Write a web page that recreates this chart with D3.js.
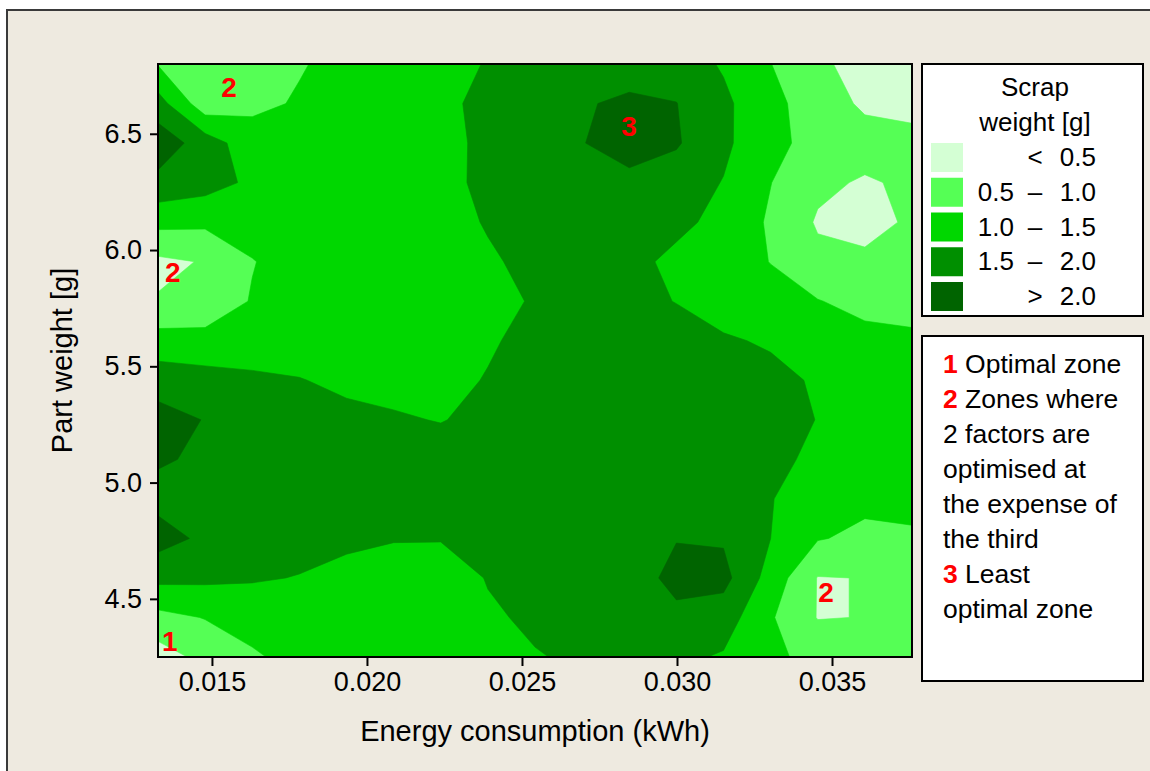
<!DOCTYPE html>
<html>
<head>
<meta charset="utf-8">
<script src="https://cdn.jsdelivr.net/npm/d3@7"></script>
<style>
  body { margin: 0; background: #ffffff; }
  svg { display: block; font-family: "Liberation Sans", Arial, sans-serif; }
</style>
</head>
<body>
<svg id="chart" width="1150" height="771"></svg>
<script>
// ---------------- data ----------------
// grid columns: energy consumption (kWh)
const energyGrid = [0.01326, 0.01478, 0.01630, 0.01782, 0.01934, 0.02086, 0.02238, 0.02390, 0.02542,
                    0.02694, 0.02846, 0.02998, 0.03150, 0.03302, 0.03454, 0.03606, 0.03758];
// grid rows: part weight (g), top to bottom
const weightGrid = [6.80, 6.63, 6.46, 6.29, 6.12, 5.95, 5.78, 5.61, 5.44, 5.27, 5.10, 4.93, 4.76, 4.59, 4.42, 4.25];
const scrapRows = [
  [0.97, 0.80, 0.72, 0.97, 1.12, 1.25, 1.38, 1.52, 1.68, 1.80, 1.80, 1.75, 1.45, 1.01, 0.56, 0.38, 0.30],
  [1.71, 0.69, 0.90, 1.04, 1.17, 1.30, 1.43, 1.58, 1.76, 1.96, 2.08, 2.01, 1.60, 1.14, 0.75, 0.42, 0.35],
  [2.30, 1.76, 1.20, 1.15, 1.20, 1.30, 1.42, 1.56, 1.72, 1.98, 2.25, 2.05, 1.60, 1.12, 0.85, 0.70, 0.65],
  [1.86, 1.70, 1.41, 1.20, 1.15, 1.20, 1.40, 1.58, 1.70, 1.80, 1.85, 1.75, 1.48, 1.01, 0.60, 0.45, 0.58],
  [1.14, 1.10, 1.20, 1.25, 1.20, 1.25, 1.35, 1.53, 1.65, 1.72, 1.72, 1.60, 1.38, 0.93, 0.45, 0.20, 0.63],
  [0.40, 0.53, 0.98, 1.20, 1.20, 1.25, 1.35, 1.45, 1.60, 1.68, 1.62, 1.40, 1.20, 0.99, 0.62, 0.675, 0.70],
  [0.53, 0.70, 1.03, 1.20, 1.22, 1.28, 1.36, 1.43, 1.52, 1.65, 1.60, 1.49, 1.30, 1.15, 1.02, 0.85, 0.80],
  [1.21, 1.15, 1.20, 1.25, 1.28, 1.32, 1.38, 1.46, 1.60, 1.70, 1.70, 1.65, 1.55, 1.45, 1.30, 1.15, 1.10],
  [1.77, 1.70, 1.60, 1.52, 1.40, 1.35, 1.40, 1.52, 1.65, 1.75, 1.78, 1.75, 1.70, 1.62, 1.45, 1.25, 1.15],
  [2.20, 1.98, 1.80, 1.72, 1.62, 1.55, 1.48, 1.62, 1.75, 1.82, 1.85, 1.82, 1.75, 1.65, 1.49, 1.30, 1.20],
  [2.05, 1.93, 1.85, 1.80, 1.75, 1.72, 1.72, 1.75, 1.82, 1.88, 1.90, 1.88, 1.80, 1.62, 1.40, 1.25, 1.20],
  [1.85, 1.85, 1.85, 1.85, 1.82, 1.78, 1.75, 1.78, 1.85, 1.90, 1.92, 1.90, 1.80, 1.52, 1.25, 1.10, 1.10],
  [2.20, 1.90, 1.75, 1.68, 1.60, 1.53, 1.52, 1.58, 1.70, 1.80, 1.88, 1.98, 1.95, 1.50, 1.03, 0.90, 0.95],
  [1.63, 1.60, 1.55, 1.48, 1.35, 1.25, 1.30, 1.52, 1.62, 1.75, 1.75, 2.15, 2.15, 1.30, 0.48, 0.51, 0.75],
  [0.85, 1.02, 1.15, 1.20, 1.22, 1.25, 1.30, 1.45, 1.56, 1.65, 1.72, 1.88, 1.75, 1.05, 0.48, 0.51, 0.70],
  [0.27, 0.64, 0.95, 1.12, 1.18, 1.22, 1.28, 1.35, 1.48, 1.55, 1.62, 1.60, 1.45, 1.10, 0.85, 0.78, 0.75]
];
const thresholds = [0.5, 1.0, 1.5, 2.0];
const levelColors = ["#D4FFD4", "#55FF55", "#00D700", "#008F00", "#006400"];
const legendLow  = ["", "0.5", "1.0", "1.5", ""];
const legendSep  = ["<", "–", "–", "–", ">"];
const legendHigh = ["0.5", "1.0", "1.5", "2.0", "2.0"];
const xTicks = [0.015, 0.020, 0.025, 0.030, 0.035];
const yTicks = [4.5, 5.0, 5.5, 6.0, 6.5];
const zoneLabels = ["2", "2", "3", "1", "2"];
const zoneEnergy = [0.01555, 0.01374, 0.02845, 0.01364, 0.03481];
const zoneWeight = [6.700, 5.905, 6.530, 4.318, 4.527];
const noteNumbers = ["1", "2", "", "", "", "", "3", ""];
const noteTexts = ["Optimal zone", "Zones where", "2 factors are", "optimised at",
                   "the expense of", "the third", "Least", "optimal zone"];

// ---------------- layout ----------------
const svg = d3.select("#chart");
const plot = {left: 158, top: 64, right: 912, bottom: 657};

svg.append("rect").attr("x", 7).attr("y", 10).attr("width", 1160).attr("height", 780)
  .attr("fill", "#EEEAE0").attr("stroke", "#3a3a3a").attr("stroke-width", 2);

const x = d3.scaleLinear().domain([energyGrid[0], energyGrid[energyGrid.length - 1]]).range([plot.left, plot.right]);
const y = d3.scaleLinear().domain([weightGrid[weightGrid.length - 1], weightGrid[0]]).range([plot.bottom, plot.top]);

// index -> data (piecewise through the grid arrays)
const nx = energyGrid.length, ny = weightGrid.length;
const ix = d3.scaleLinear().domain(d3.range(nx)).range(energyGrid);
const iy = d3.scaleLinear().domain(d3.range(ny)).range(weightGrid);

const contours = d3.contours().size([nx, ny]).thresholds(thresholds)(scrapRows.flat());
const proj = d3.geoTransform({
  point(px, py) { this.stream.point(x(ix(px - 0.5)), y(iy(py - 0.5))); }
});
const path = d3.geoPath(proj);

svg.append("clipPath").attr("id", "plotClip").append("rect")
  .attr("x", plot.left).attr("y", plot.top)
  .attr("width", plot.right - plot.left).attr("height", plot.bottom - plot.top);

const gMap = svg.append("g").attr("clip-path", "url(#plotClip)");
gMap.append("rect").attr("x", plot.left).attr("y", plot.top)
  .attr("width", plot.right - plot.left).attr("height", plot.bottom - plot.top)
  .attr("fill", levelColors[0]);
gMap.selectAll("path.band").data(contours).join("path")
  .attr("class", "band")
  .attr("d", path)
  .attr("fill", (d, i) => levelColors[i + 1])
  .attr("stroke", (d, i) => levelColors[i + 1])
  .attr("stroke-width", 0.6);

// zone markers
gMap.selectAll("text.zone").data(zoneLabels).join("text")
  .attr("class", "zone")
  .attr("x", (d, i) => x(zoneEnergy[i]))
  .attr("y", (d, i) => y(zoneWeight[i]))
  .attr("text-anchor", "middle").attr("dominant-baseline", "central")
  .attr("font-size", 28).attr("font-weight", "bold").attr("fill", "#FF0000")
  .text(d => d);

// frame of plot
svg.append("rect").attr("x", plot.left).attr("y", plot.top)
  .attr("width", plot.right - plot.left).attr("height", plot.bottom - plot.top)
  .attr("fill", "none").attr("stroke", "#000").attr("stroke-width", 2);

// axes
const xAxis = d3.axisBottom(x).tickValues(xTicks).tickFormat(d3.format(".3f")).tickSizeOuter(0).tickSize(9).tickPadding(6);
const yAxis = d3.axisLeft(y).tickValues(yTicks).tickFormat(d3.format(".1f")).tickSizeOuter(0).tickSize(8).tickPadding(8);
const gx = svg.append("g").attr("transform", `translate(0,${plot.bottom})`).call(xAxis);
const gy = svg.append("g").attr("transform", `translate(${plot.left},0)`).call(yAxis);
[gx, gy].forEach(g => {
  g.select(".domain").remove();
  g.selectAll(".tick line").attr("stroke", "#000").attr("stroke-width", 2);
  g.selectAll(".tick text").attr("fill", "#000").attr("font-size", 27)
    .attr("font-family", "'Liberation Sans', Arial, sans-serif");
});

svg.append("text").attr("x", (plot.left + plot.right) / 2).attr("y", 741)
  .attr("text-anchor", "middle").attr("font-size", 29).attr("fill", "#000")
  .text("Energy consumption (kWh)");
svg.append("text").attr("transform", `translate(72,${(plot.top + plot.bottom) / 2}) rotate(-90)`)
  .attr("text-anchor", "middle").attr("font-size", 29).attr("fill", "#000")
  .text("Part weight [g]");

// legend 1
const lg = svg.append("g");
lg.append("rect").attr("x", 922).attr("y", 64).attr("width", 221).attr("height", 252)
  .attr("fill", "#fff").attr("stroke", "#000").attr("stroke-width", 2);
lg.append("text").attr("x", 1035).attr("y", 96).attr("text-anchor", "middle").attr("font-size", 26).text("Scrap");
lg.append("text").attr("x", 1035).attr("y", 131).attr("text-anchor", "middle").attr("font-size", 26).text("weight [g]");
const rows = lg.selectAll("g.row").data(levelColors).join("g").attr("class", "row")
  .attr("transform", (d, i) => `translate(0,${166 + i * 34.75})`);
rows.append("rect").attr("x", 931).attr("y", -23).attr("width", 32).attr("height", 29).attr("fill", d => d);
rows.append("text").attr("x", 1014).attr("text-anchor", "end").attr("font-size", 26).text((d, i) => legendLow[i]);
rows.append("text").attr("x", 1035).attr("text-anchor", "middle").attr("font-size", 26).text((d, i) => legendSep[i]);
rows.append("text").attr("x", 1096).attr("text-anchor", "end").attr("font-size", 26).text((d, i) => legendHigh[i]);

// legend 2 (notes)
const ng = svg.append("g");
ng.append("rect").attr("x", 922).attr("y", 336).attr("width", 221).attr("height", 345)
  .attr("fill", "#fff").attr("stroke", "#000").attr("stroke-width", 2);
const nt = ng.selectAll("text").data(noteTexts).join("text")
  .attr("x", 943).attr("y", (d, i) => 372.5 + i * 35).attr("font-size", 26.5).attr("fill", "#000");
nt.each(function (d, i) {
  const t = d3.select(this);
  if (noteNumbers[i]) {
    t.append("tspan").attr("fill", "#FF0000").attr("font-weight", "bold").text(noteNumbers[i]);
    t.append("tspan").text(" " + d);
  } else {
    t.append("tspan").text(d);
  }
});
</script>
</body>
</html>
